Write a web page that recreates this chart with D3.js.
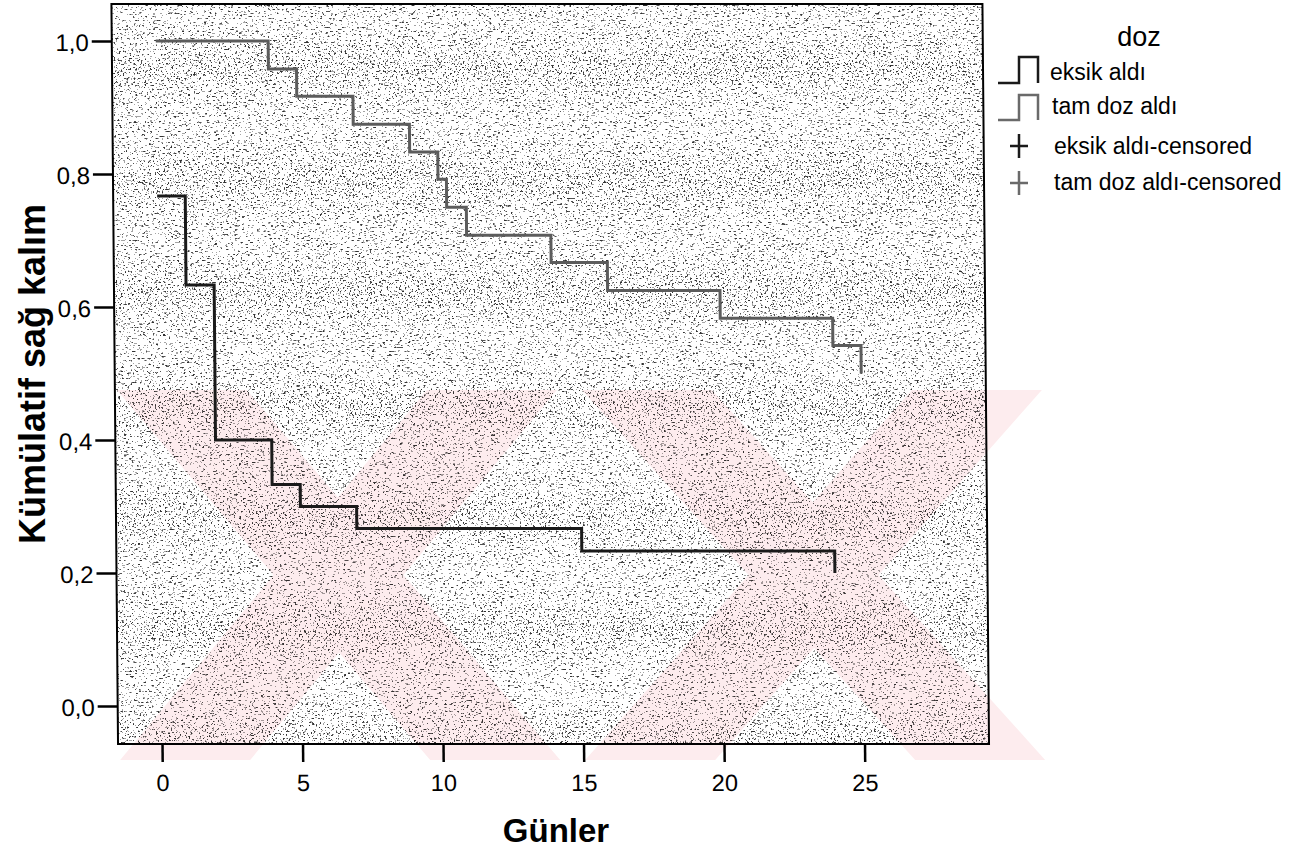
<!DOCTYPE html>
<html>
<head>
<meta charset="utf-8">
<script src="https://cdnjs.cloudflare.com/ajax/libs/d3/7.8.5/d3.min.js"></script>
<style>
  html, body { margin: 0; padding: 0; background: #ffffff; }
  svg { display: block; }
  text { font-family: "Liberation Sans", Arial, sans-serif; fill: #000; }
</style>
</head>
<body>
<script>
// ---------------- data ----------------
const seriesNames = ["eksik aldı", "tam doz aldı"];
const eksikTimes = [0, 1, 2, 4, 5, 7, 15, 24];
const eksikSurv  = [0.767, 0.633, 0.400, 0.333, 0.300, 0.267, 0.233, 0.200];
const tamTimes   = [0, 4, 5, 7, 9, 10, 10.3, 11, 14, 16, 20, 24, 25];
const tamSurv    = [1.000, 0.958, 0.917, 0.875, 0.833, 0.792, 0.750, 0.708, 0.667, 0.625, 0.583, 0.542, 0.500];
const xTicks = [0, 5, 10, 15, 20, 25];
const yTicks = [0.0, 0.2, 0.4, 0.6, 0.8, 1.0];
const legendLabels = ["eksik aldı", "tam doz aldı", "eksik aldı-censored", "tam doz aldı-censored"];
const legendTitle = "doz";
const xTitle = "Günler";
const yTitle = "Kümülatif sağ kalım";

// ---------------- layout ----------------
const W = 1297, H = 854;
const plot = { left: 118, right: 989, top: 4, bottom: 744 };

const x = d3.scaleLinear().domain([0, 25]).range([162, 864.5]);
const y = d3.scaleLinear().domain([0, 1]).range([706, 41]);

const svg = d3.select("body").append("svg").attr("width", W).attr("height", H);
const defs = svg.append("defs");

// speckle texture filter
const f = defs.append("filter").attr("id", "speckle")
  .attr("x", 0).attr("y", 0).attr("width", "100%").attr("height", "100%")
  .attr("filterUnits", "objectBoundingBox");
f.append("feTurbulence").attr("type", "fractalNoise").attr("baseFrequency", 0.55)
  .attr("numOctaves", 3).attr("seed", 7).attr("result", "t");
f.append("feColorMatrix").attr("type", "matrix")
  .attr("values", "0 0 0 0 0  0 0 0 0 0  0 0 0 0 0  1 0 0 0 0").attr("result", "a");
const ct = f.append("feComponentTransfer");
ct.append("feFuncA").attr("type", "discrete").attr("tableValues", "0 0 0 0 0 0 0 0 0 0 0 0 0.45 0.85 1 1 1 1 1 1");

const g = svg.append("g").attr("transform", "matrix(1,0,0.0089,1,-6.6,0)");

// plot background
g.append("rect").attr("x", plot.left).attr("y", plot.top)
  .attr("width", plot.right - plot.left).attr("height", plot.bottom - plot.top)
  .attr("fill", "#ffffff");

// watermark drawn behind speckles (very light pink X shapes)
const wm2 = g.append("g").attr("fill", "#fdecee");
function band(pts) { wm2.append("polygon").attr("points", pts.map(p => p.join(",")).join(" ")); }
band([[120, 390], [250, 390], [560, 760], [430, 760]]);
band([[430, 390], [560, 390], [250, 760], [120, 760]]);
band([[585, 390], [715, 390], [1045, 760], [915, 760]]);
band([[915, 390], [1045, 390], [715, 760], [585, 760]]);

// speckle layer
g.append("rect").attr("x", plot.left).attr("y", plot.top)
  .attr("width", plot.right - plot.left).attr("height", plot.bottom - plot.top)
  .attr("fill", "#111").attr("filter", "url(#speckle)").attr("opacity", 0.8);

// survival curves
const line = d3.line().x(d => x(d[0])).y(d => y(d[1])).curve(d3.curveStepAfter);
const eksikData = eksikTimes.map((t, i) => [t, eksikSurv[i]]);
const tamData = tamTimes.map((t, i) => [t, tamSurv[i]]);

g.append("path").datum(tamData).attr("d", line)
  .attr("fill", "none").attr("stroke", "#5c5c5c").attr("stroke-width", 3);
g.append("path").datum(eksikData).attr("d", line)
  .attr("fill", "none").attr("stroke", "#1a1a1a").attr("stroke-width", 3);

// border
g.append("rect").attr("x", plot.left).attr("y", plot.top)
  .attr("width", plot.right - plot.left).attr("height", plot.bottom - plot.top)
  .attr("fill", "none").attr("stroke", "#000").attr("stroke-width", 2);

// axes
const fmt = d => d3.format(".1f")(d).replace(".", ",");
const yAxis = g.append("g").attr("transform", `translate(${plot.left},0)`)
  .call(d3.axisLeft(y).tickValues(yTicks).tickFormat(fmt).tickSize(20).tickPadding(3));
yAxis.select(".domain").remove();
yAxis.selectAll("line").attr("stroke", "#000").attr("stroke-width", 2.5);
yAxis.selectAll("text").attr("font-size", 24).attr("dy", "0.4em");

const xAxis = g.append("g").attr("transform", `translate(0,${plot.bottom})`)
  .call(d3.axisBottom(x).tickValues(xTicks).tickFormat(d3.format("d")).tickSize(18).tickPadding(12));
xAxis.select(".domain").remove();
xAxis.selectAll("line").attr("stroke", "#000").attr("stroke-width", 2.5);
xAxis.selectAll("text").attr("font-size", 23.5);

// axis titles
svg.append("text").attr("x", 556).attr("y", 842).attr("text-anchor", "middle")
  .attr("font-size", 33).attr("font-weight", "bold").text(xTitle);
svg.append("text").attr("transform", "translate(45,374) rotate(-90)").attr("text-anchor", "middle")
  .attr("font-size", 36).attr("font-weight", "bold").text(yTitle);

// legend
const lg = svg.append("g");
lg.append("text").attr("x", 1139).attr("y", 46).attr("text-anchor", "middle")
  .attr("font-size", 27).text(legendTitle);

const legendColors = ["#1a1a1a", "#6a6a6a", "#1a1a1a", "#6a6a6a"];
const stepIcon = (yTop, yBot) => `M998,${yBot} H1019 V${yTop} H1038 V${yBot}`;
lg.append("path").attr("d", stepIcon(57, 83)).attr("fill", "none").attr("stroke", legendColors[0]).attr("stroke-width", 2.5);
lg.append("path").attr("d", stepIcon(95, 120)).attr("fill", "none").attr("stroke", legendColors[1]).attr("stroke-width", 2.5);
function cross(cx, cy, c) {
  lg.append("path").attr("d", `M${cx - 9},${cy} H${cx + 9} M${cx},${cy - 12} V${cy + 12}`)
    .attr("stroke", c).attr("stroke-width", 2.5).attr("fill", "none");
}
cross(1019, 146, legendColors[2]);
cross(1019, 183, legendColors[3]);

const legendPos = [[1050, 80], [1052, 114], [1054, 154], [1054, 190]];
legendLabels.forEach((t, i) => {
  lg.append("text").attr("x", legendPos[i][0]).attr("y", legendPos[i][1])
    .attr("font-size", 23).text(t);
});
</script>
</body>
</html>
